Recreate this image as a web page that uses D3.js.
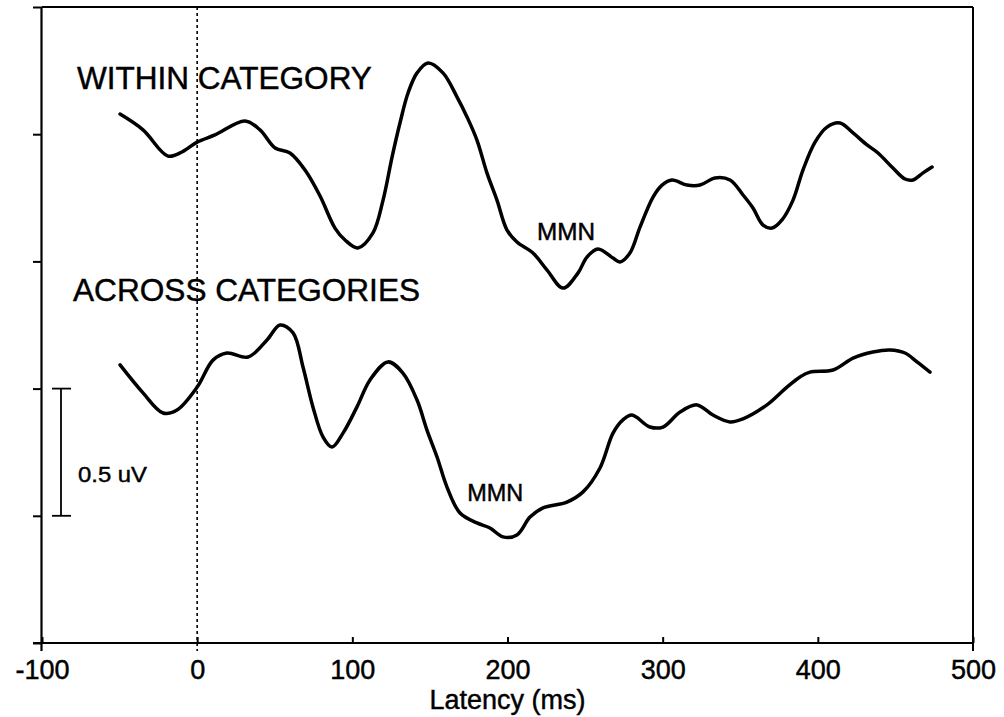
<!DOCTYPE html>
<html><head><meta charset="utf-8">
<script src="https://cdn.jsdelivr.net/npm/d3@7"></script>
<style>body{margin:0;background:#fff}svg{display:block}text{font-family:"Liberation Sans",Arial,Helvetica,sans-serif;fill:#000;stroke:#000;stroke-width:0.45px}</style>
</head><body><svg id="c" width="1004" height="717"></svg>
<script>
// Latency (ms) and amplitude (uV, arbitrary offset)
const withinLatency = [-49.7,-34.9,-18.8,-9.8,0,11.5,30.8,40.5,50.2,59.8,69.5,79.2,88.8,95.3,103.6,113.3,119.8,125.6,130.7,135.9,141.7,148.8,158.4,167.5,173.9,180.3,186.8,193.2,199.7,206.1,216.4,225.5,235.8,245.4,251.2,258.3,268.0,272.5,278.9,285.4,293.8,299.6,306.0,315.7,324.1,333.7,343.4,351.8,358.2,364.7,370.5,376.9,384.0,390.4,398.2,405.9,414.3,422.7,431.7,438.8,448.4,456.2,461.3,467.8,473.6];
const withinAmp = [2.079,2.017,1.914,1.930,1.969,1.997,2.052,2.017,1.946,1.926,1.859,1.757,1.631,1.584,1.553,1.612,1.741,1.910,2.044,2.162,2.241,2.280,2.241,2.146,2.068,1.977,1.847,1.741,1.623,1.576,1.533,1.466,1.395,1.454,1.517,1.549,1.513,1.498,1.533,1.635,1.753,1.800,1.820,1.800,1.800,1.828,1.820,1.761,1.710,1.643,1.631,1.663,1.741,1.859,1.969,2.028,2.044,2.005,1.958,1.926,1.867,1.824,1.820,1.848,1.871];
const acrossLatency = [-49.7,-34.9,-22.0,-13.0,0,10.2,19.2,32.8,45.0,53.4,61.8,68.2,74.6,81.1,86.9,94.0,103.0,111.4,123.0,132.6,141.7,148.1,154.6,161.0,169.4,180.3,188.7,197.1,206.1,214.5,222.9,238.3,248.7,259.6,268.0,274.4,280.2,291.8,300.2,311.2,322.1,332.4,343.4,351.8,367.2,380.1,388.5,394.9,409.8,422.7,435.5,446.5,456.2,463.9,472.3];
const acrossAmp = [1.093,0.983,0.904,0.916,1.006,1.112,1.140,1.124,1.191,1.250,1.219,1.085,0.928,0.810,0.770,0.825,0.928,1.034,1.105,1.061,0.955,0.837,0.731,0.613,0.511,0.472,0.452,0.417,0.425,0.495,0.531,0.554,0.594,0.688,0.825,0.877,0.896,0.849,0.849,0.908,0.936,0.896,0.869,0.881,0.936,1.006,1.046,1.065,1.073,1.120,1.144,1.152,1.140,1.105,1.065];
const xTicks = [-100,0,100,200,300,400,500];
const yTicks = [0,0.5,1,1.5,2,2.5];
const labels = [
  {text:"WITHIN CATEGORY", x:-77.5, y:2.178, size:32, len:295},
  {text:"ACROSS CATEGORIES", x:-80, y:1.344, size:32, len:347},
  {text:"MMN", x:219, y:1.585, size:23, len:58},
  {text:"MMN", x:174, y:0.56, size:23, len:56}
];
const scaleBar = {from:0.5, to:1.0, label:"0.5 uV"};

const svg = d3.select("#c");
const L=42, R=973, T=7, B=643;
const x = d3.scaleLinear().domain([-100,500]).range([L,R]);
const y = d3.scaleLinear().domain([0,2.5]).range([B,T]);

// frame
svg.append("line").attr("x1",L).attr("x2",R).attr("y1",T).attr("y2",T).attr("stroke","#000").attr("stroke-width",2);
svg.append("line").attr("x1",R).attr("x2",R).attr("y1",T).attr("y2",B+8).attr("stroke","#000").attr("stroke-width",2);

// left axis
const ya = svg.append("g").attr("transform",`translate(${L},0)`)
  .call(d3.axisLeft(y).tickValues(yTicks).tickSize(9).tickFormat(""));
ya.select(".domain").attr("d",`M-0.5,${T}V${B+8}`).attr("stroke-width",2.2);
ya.selectAll(".tick line").attr("stroke-width",2);

// bottom axis
const xa = svg.append("g").attr("transform",`translate(0,${B})`)
  .call(d3.axisBottom(x).tickValues(xTicks).tickSize(-6).tickPadding(17).tickFormat(d=>String(d)));
xa.select(".domain").attr("d",`M${L-9},0H${R}`).attr("stroke-width",2.2);
xa.selectAll(".tick line").attr("stroke-width",2);
xa.selectAll(".tick text").attr("font-size",27).attr("font-family","Liberation Sans, Arial, sans-serif").attr("fill","#000");
svg.append("text").attr("x",x(200)).attr("y",709).attr("text-anchor","middle").attr("font-size",27).text("Latency (ms)");

// dotted zero line
svg.append("line").attr("x1",x(0)).attr("x2",x(0)).attr("y1",T).attr("y2",B+8)
  .attr("stroke","#000").attr("stroke-width",1.6).attr("stroke-dasharray","3,3");

// curves
const line = d3.line().x(d=>x(d[0])).y(d=>y(d[1])).curve(d3.curveCatmullRom.alpha(0.5));
[[withinLatency,withinAmp],[acrossLatency,acrossAmp]].forEach(([lx,ly])=>{
  svg.append("path").datum(lx.map((v,i)=>[v,ly[i]])).attr("d",line)
    .attr("fill","none").attr("stroke","#000").attr("stroke-width",3.5).attr("stroke-linejoin","round").attr("stroke-linecap","round");
});

// labels
labels.forEach(l=>{
  svg.append("text").attr("x",x(l.x)).attr("y",y(l.y)).attr("font-size",l.size)
    .attr("textLength",l.len).attr("lengthAdjust","spacingAndGlyphs").text(l.text);
});

// scale bar
const sbx = L+19;
const sb = svg.append("g").attr("stroke","#000").attr("stroke-width",1.8);
sb.append("line").attr("x1",sbx).attr("x2",sbx).attr("y1",y(scaleBar.to)).attr("y2",y(scaleBar.from));
sb.append("line").attr("x1",sbx-9).attr("x2",sbx+10).attr("y1",y(scaleBar.to)).attr("y2",y(scaleBar.to));
sb.append("line").attr("x1",sbx-9).attr("x2",sbx+10).attr("y1",y(scaleBar.from)).attr("y2",y(scaleBar.from));
svg.append("text").attr("x",sbx+17).attr("y",482).attr("font-size",22).attr("textLength",69).attr("lengthAdjust","spacingAndGlyphs").text(scaleBar.label);
</script></body></html>
